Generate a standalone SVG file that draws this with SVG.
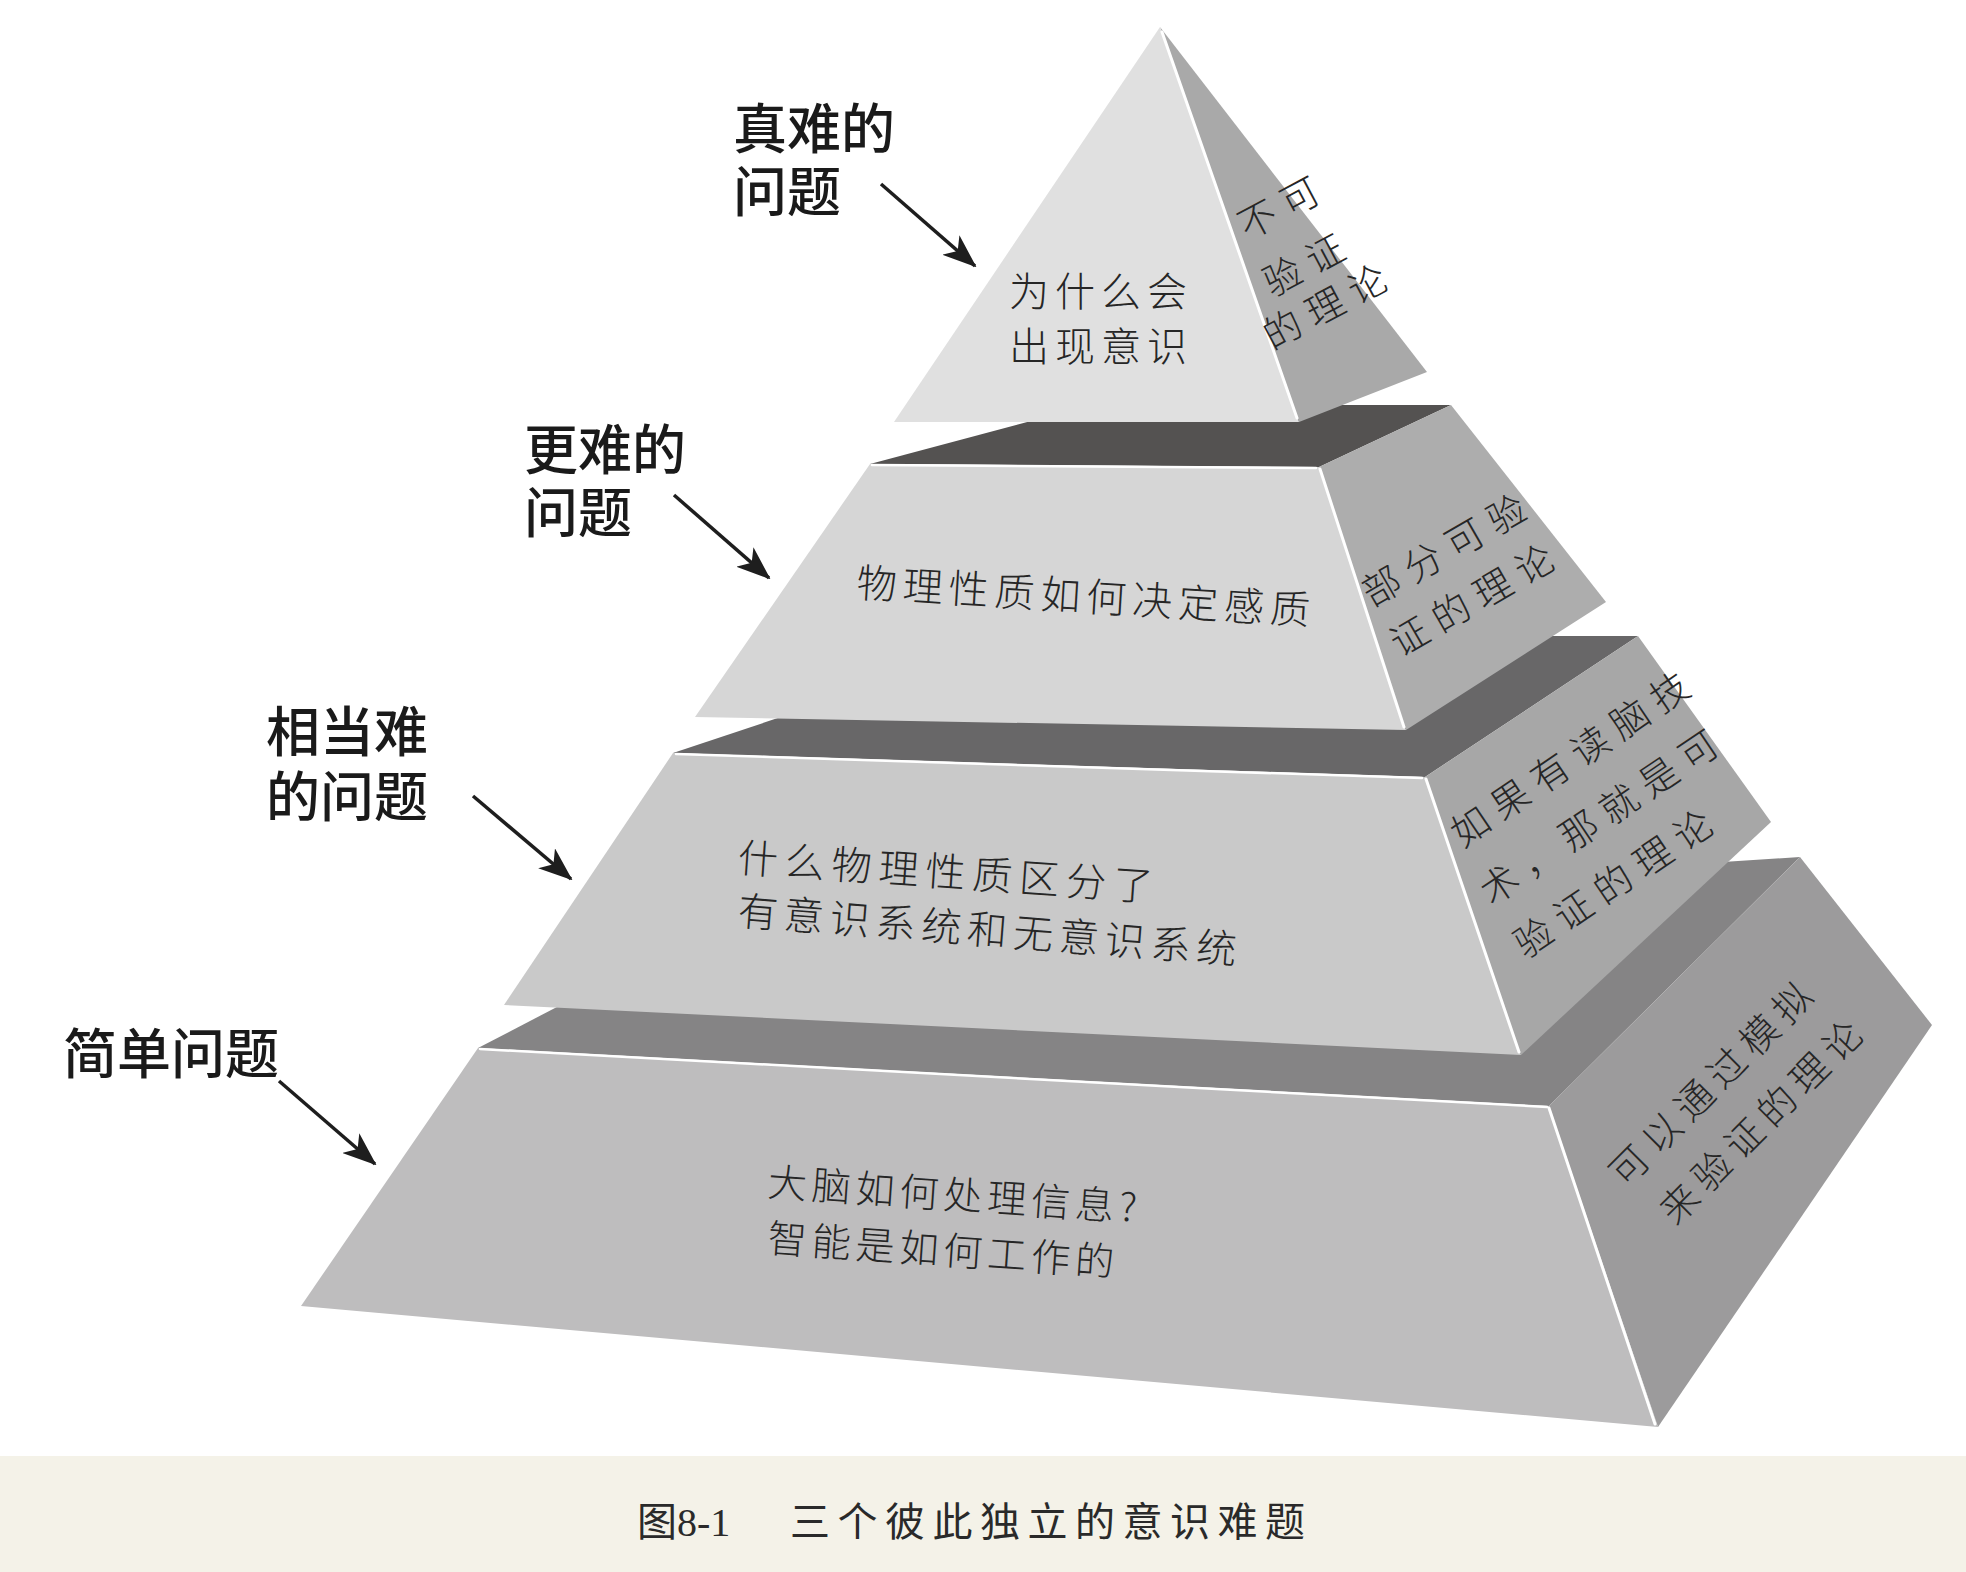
<svg xmlns="http://www.w3.org/2000/svg" width="1966" height="1572" viewBox="0 0 1966 1572">
  <defs>
    <marker id="ah" viewBox="0 0 34 26" refX="32" refY="13" markerWidth="34" markerHeight="26" orient="auto" markerUnits="userSpaceOnUse">
      <path d="M0,0 L34,13 L0,26 L9,13 Z" fill="#1e1e1e"/>
    </marker>
    <style>
      .face { font-family: "Noto Sans CJK SC", "Noto Sans", sans-serif; font-weight: 300; fill: #262626; }
      .lbl { font-family: "Liberation Sans", "Noto Sans CJK SC", sans-serif; font-weight: 500; font-size: 54px; fill: #1a1a1a; }
      .hl { stroke: #ffffff; fill: none; stroke-linecap: round; }
      .arrow { stroke: #1e1e1e; stroke-width: 3.5; fill: none; marker-end: url(#ah); }
    </style>
  </defs>
  <rect x="0" y="0" width="1966" height="1572" fill="#ffffff"/>

  <!-- Tier 4 (bottom) -->
  <g id="tier4">
    <polygon points="478,1048 1549,1106 1800,857 709,928" fill="#858485"/>
    <polygon points="478,1048 1549,1106 1658,1427 301,1306" fill="#bebdbe"/>
    <polygon points="1549,1106 1800,857 1932,1025 1658,1427" fill="#9c9b9c"/>
    <line class="hl" x1="480" y1="1049" x2="1547" y2="1107" stroke-width="2.5"/>
    <line class="hl" x1="1549" y1="1108" x2="1655" y2="1424" stroke-width="3"/>
    <g class="face" font-size="39">
      <text x="767" y="1196" letter-spacing="5" transform="rotate(4 767 1196)">大脑如何处理信息?</text>
      <text x="767" y="1252" letter-spacing="5" transform="rotate(4 767 1252)">智能是如何工作的</text>
    </g>
    <g class="face" font-size="38">
      <text x="-19" y="13" letter-spacing="8" transform="translate(1630 1166) rotate(-45)">可以通过模拟</text>
      <text x="-19" y="13" letter-spacing="8" transform="translate(1680 1204) rotate(-45)">来验证的理论</text>
    </g>
  </g>

  <!-- Tier 3 -->
  <g id="tier3">
    <polygon points="673,753 1425,777 1638,636 1024,636" fill="#686768"/>
    <polygon points="673,753 1425,777 1521,1055 504,1005" fill="#c9c9c9"/>
    <polygon points="1425,777 1638,636 1771,822 1521,1055" fill="#a7a7a7"/>
    <line class="hl" x1="676" y1="754" x2="1422" y2="778" stroke-width="2.5"/>
    <line class="hl" x1="1426" y1="779" x2="1519" y2="1052" stroke-width="3"/>
    <g class="face" font-size="40">
      <text x="737" y="872" letter-spacing="7" transform="rotate(4 737 872)">什么物理性质区分了</text>
      <text x="737" y="925" letter-spacing="6" transform="rotate(4.5 737 925)">有意识系统和无意识系统</text>
    </g>
    <g class="face" font-size="38">
      <text x="-19" y="13" letter-spacing="10" transform="translate(1471 827) rotate(-34)">如果有读脑技</text>
      <text x="-19" y="13" letter-spacing="10" transform="translate(1500 885) rotate(-34)">术，那就是可</text>
      <text x="-19" y="13" letter-spacing="10" transform="translate(1534 938) rotate(-34)">验证的理论</text>
    </g>
  </g>

  <!-- Tier 2 -->
  <g id="tier2">
    <polygon points="870,464 1319,467 1451,405 1091,405" fill="#545251"/>
    <polygon points="870,464 1319,467 1406,730 695,717" fill="#d6d6d6"/>
    <polygon points="1319,467 1451,405 1606,602 1406,730" fill="#adadad"/>
    <line class="hl" x1="872" y1="465" x2="1316" y2="468" stroke-width="2.5"/>
    <line class="hl" x1="1320" y1="469" x2="1404" y2="727" stroke-width="3"/>
    <text class="face" font-size="40" x="856" y="597" letter-spacing="6" transform="rotate(3.5 856 597)">物理性质如何决定感质</text>
    <g class="face" font-size="38">
      <text x="-19" y="13" letter-spacing="10" transform="translate(1382 587) rotate(-30)">部分可验</text>
      <text x="-19" y="13" letter-spacing="10" transform="translate(1410 637) rotate(-30)">证的理论</text>
    </g>
  </g>

  <!-- Tier 1 (apex) -->
  <g id="tier1">
    <polygon points="1160,27 1299,422 1427,372" fill="#a9a9a9"/>
    <polygon points="1160,27 1299,422 894,422" fill="#e0e0e0"/>
    <line class="hl" x1="1162" y1="32" x2="1297" y2="418" stroke-width="3"/>
    <text class="face" font-size="40" letter-spacing="6"><tspan x="1009" y="306">为什么会</tspan><tspan x="1009" y="361">出现意识</tspan></text>
    <g class="face" font-size="38">
      <text x="-19" y="13" letter-spacing="10" transform="translate(1258 220) rotate(-28)">不可</text>
      <text x="-19" y="13" letter-spacing="10" transform="translate(1283 277) rotate(-28)">验证</text>
      <text x="-19" y="13" letter-spacing="10" transform="translate(1283 330) rotate(-28)">的理论</text>
    </g>
  </g>

  <!-- Side labels -->
  <g id="label-truehard">
    <text class="lbl"><tspan x="733" y="149">真难的</tspan><tspan x="733" y="212">问题</tspan></text>
  </g>
  <g id="label-harder">
    <text class="lbl"><tspan x="524" y="470">更难的</tspan><tspan x="524" y="533">问题</tspan></text>
  </g>
  <g id="label-hard">
    <text class="lbl"><tspan x="266" y="752">相当难</tspan><tspan x="266" y="817">的问题</tspan></text>
  </g>
  <g id="label-easy">
    <text class="lbl" x="63" y="1074">简单问题</text>
  </g>

  <g id="connectors">
    <line class="arrow" x1="881" y1="184" x2="975" y2="266"/>
    <line class="arrow" x1="674" y1="495" x2="769" y2="578"/>
    <line class="arrow" x1="473" y1="796" x2="571" y2="879"/>
    <line class="arrow" x1="279" y1="1081" x2="375" y2="1164"/>
  </g>

  <!-- Caption -->
  <g id="caption">
    <rect x="0" y="1456" width="1966" height="116" fill="#f4f2e8"/>
    <text x="637" y="1536" font-family="Liberation Serif, Noto Sans CJK SC, serif" font-size="40" fill="#2a2a2a">图8-1</text>
    <text x="790" y="1536" font-family="Noto Sans CJK SC, sans-serif" font-size="40" letter-spacing="7.5" fill="#2a2a2a">三个彼此独立的意识难题</text>
  </g>
</svg>
